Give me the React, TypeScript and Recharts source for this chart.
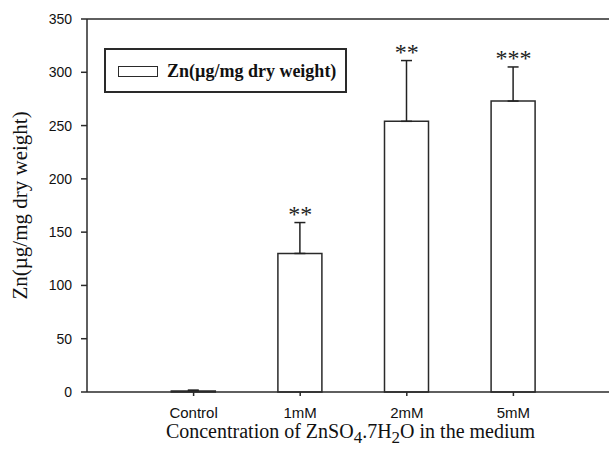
import React from 'react';
import { ComposedChart, Bar, XAxis, YAxis, ErrorBar, Scatter, Legend, ReferenceLine } from 'recharts';

const categories = ['Control', '1mM', '2mM', '5mM'];
const positions = [1, 2, 3, 4];
const means = [1, 130, 254, 273];
const errors = [0.8, 29, 57, 32];
const marks = ['', '**', '**', '***'];
const yTicks = [0, 50, 100, 150, 200, 250, 300, 350];
const legendLabel = 'Zn(µg/mg dry weight)';

const data = positions.map((p, i) => ({
  x: p,
  mean: means[i],
  err: [0, errors[i]],
  top: means[i] + errors[i],
  mark: marks[i],
}));

const INK = '#2a2a2a';
const SANS = '"Liberation Sans", Arial, sans-serif';
const SERIF = '"Liberation Serif", "Times New Roman", serif';

const XTitle = (props: any) => {
  const vb = props.viewBox || {};
  const cx = vb.x + vb.width / 2 - 3;
  return (
    <text
      x={cx}
      y={vb.y + 46}
      textAnchor="middle"
      fontFamily={SERIF}
      style={{ fontFamily: SERIF }}
      fontSize={20}
      fill="#111"
    >
      Concentration of ZnSO
      <tspan fontSize={17} dy={5}>4</tspan>
      <tspan dy={-5}>.7H</tspan>
      <tspan fontSize={17} dy={5}>2</tspan>
      <tspan dy={-5}>O in the medium</tspan>
    </text>
  );
};

const YTitle = (props: any) => {
  const vb = props.viewBox || {};
  const cy = vb.y + vb.height / 2;
  return (
    <text
      x={27}
      y={cy}
      transform={`rotate(-90, 27, ${cy})`}
      textAnchor="middle"
      fontFamily={SERIF}
      style={{ fontFamily: SERIF }}
      fontSize={21}
      fill="#111"
    >
      {legendLabel}
    </text>
  );
};

const renderLegend = () => (
  <div
    style={{
      boxSizing: 'border-box',
      width: 243,
      height: 45,
      border: `2px solid ${INK}`,
      background: '#fff',
      position: 'relative',
    }}
  >
    <div
      style={{
        position: 'absolute',
        left: 12,
        top: 16,
        width: 40,
        height: 11,
        boxSizing: 'border-box',
        border: `1.5px solid ${INK}`,
        background: '#fff',
      }}
    />
    <div
      style={{
        position: 'absolute',
        left: 61,
        top: 10,
        fontFamily: SERIF,
        fontWeight: 'bold',
        fontSize: 18,
        lineHeight: '22px',
        color: '#111',
        whiteSpace: 'nowrap',
      }}
    >
      {legendLabel}
    </div>
  </div>
);

const MarkShape = (props: any) => {
  const { cx, cy, payload } = props;
  if (!payload || !payload.mark) return <g />;
  return (
    <text
      x={cx}
      y={cy - 1}
      textAnchor="middle"
      fontFamily={SERIF}
      style={{ fontFamily: SERIF }}
      fontSize={24}
      fill="#222"
    >
      {payload.mark}
    </text>
  );
};

export default function App() {
  return (
    <div
      style={{
        position: 'absolute',
        left: 0,
        top: 0,
        width: 609,
        height: 452,
        overflow: 'hidden',
        background: '#fff',
      }}
    >
      <ComposedChart width={640} height={452} data={data} margin={{ top: 19, right: 20, bottom: 0, left: 0 }}>
        <XAxis
          dataKey="x"
          type="number"
          domain={[0, 5]}
          ticks={positions}
          tickFormatter={(v: number) => categories[v - 1] ?? ''}
          height={60}
          tickSize={4}
          tickMargin={11}
          axisLine={{ stroke: INK, strokeWidth: 1.5 }}
          tickLine={{ stroke: INK, strokeWidth: 1.5 }}
          tick={{ fontFamily: SANS, fontSize: 15, fill: '#111' }}
          label={{ content: XTitle }}
        />
        <YAxis
          type="number"
          domain={[0, 350]}
          ticks={yTicks}
          width={87}
          tickSize={6}
          tickMargin={9}
          axisLine={{ stroke: INK, strokeWidth: 1.5 }}
          tickLine={{ stroke: INK, strokeWidth: 1.5 }}
          tick={{ fontFamily: SANS, fontSize: 14, fill: '#111' }}
          label={{ content: YTitle }}
        />
        <ReferenceLine y={350} stroke={INK} strokeWidth={1.5} />
        <Legend
          layout="horizontal"
          verticalAlign="middle"
          align="center"
          content={renderLegend}
          wrapperStyle={{ left: 104, top: 48, width: 243, height: 45 }}
        />
        <Bar
          dataKey="mean"
          name={legendLabel}
          barSize={44}
          fill="#fff"
          stroke={INK}
          strokeWidth={1.5}
          isAnimationActive={false}
        >
          <ErrorBar dataKey="err" direction="y" width={5.5} stroke="#222" strokeWidth={1.5} />
        </Bar>
        <Scatter dataKey="top" shape={MarkShape} isAnimationActive={false} legendType="none" />
      </ComposedChart>
    </div>
  );
}
